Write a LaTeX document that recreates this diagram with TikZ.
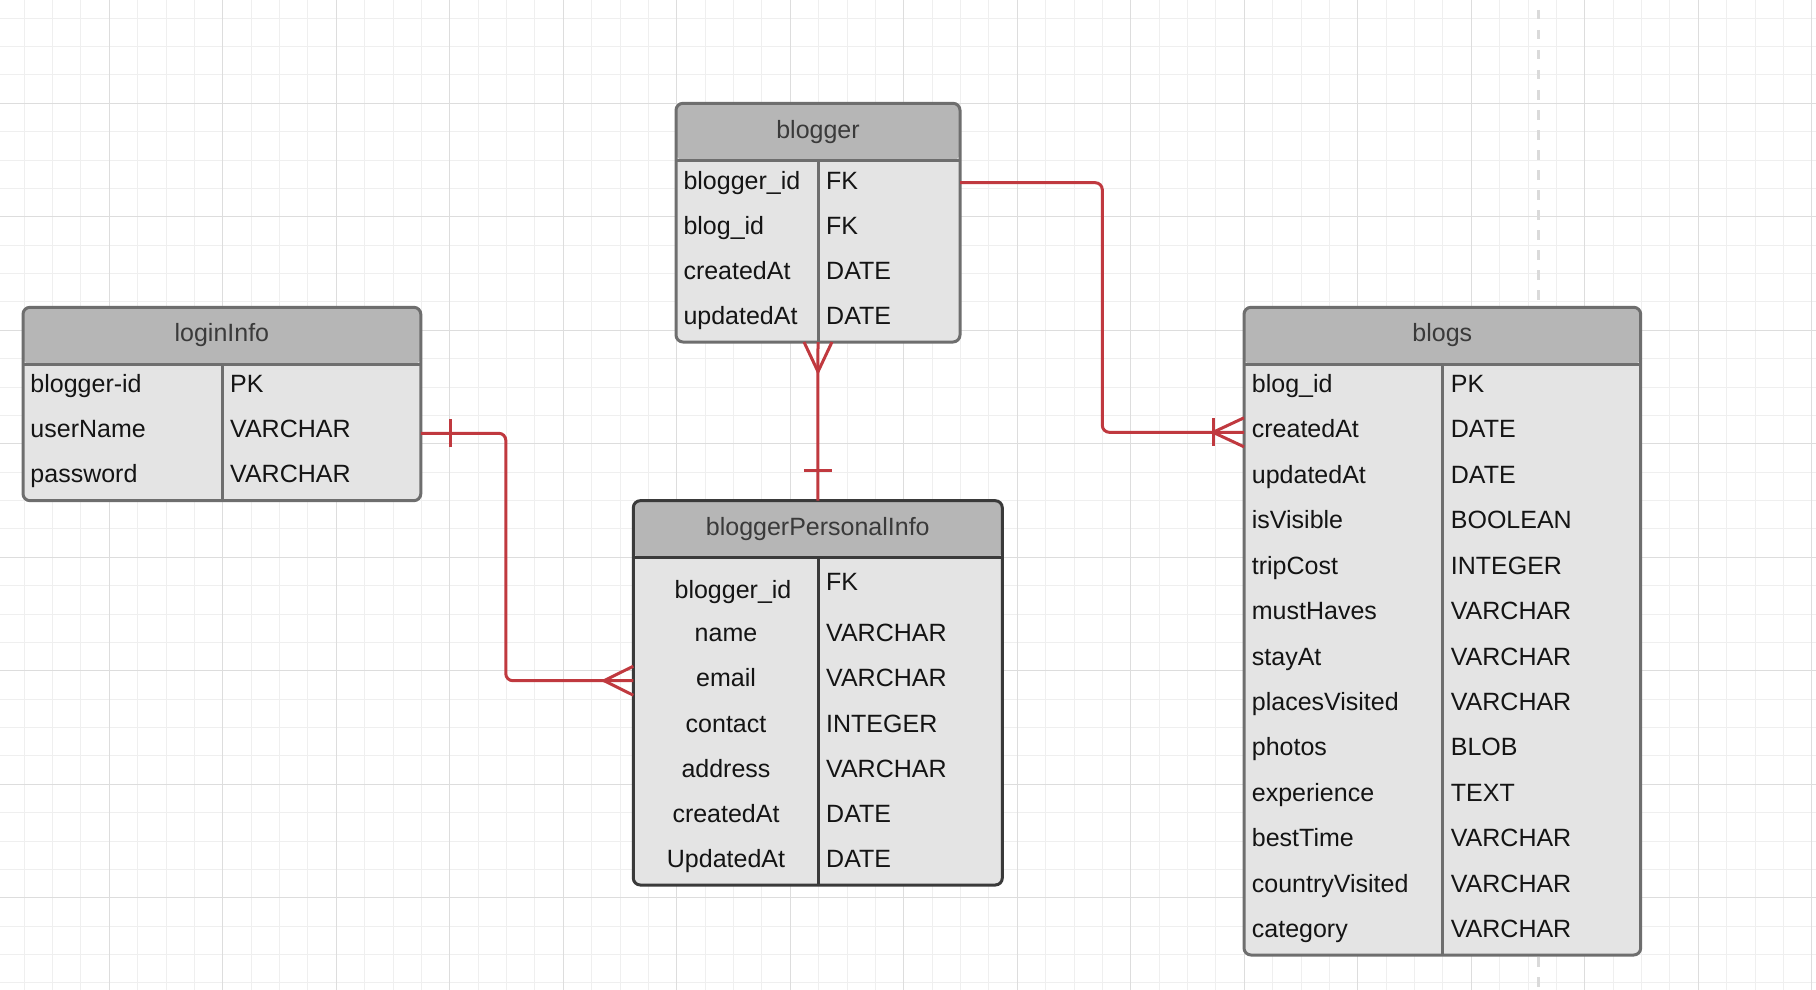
\documentclass[tikz,border=0pt]{standalone}
\usepackage{fontspec}
\setmainfont{Liberation Sans}
\usetikzlibrary{calc}
\definecolor{hdrfill}{RGB}{182,182,182}
\definecolor{bodyfill}{RGB}{228,228,228}
\definecolor{bordergray}{RGB}{110,110,110}
\definecolor{borderdark}{RGB}{58,58,58}
\definecolor{titletext}{RGB}{58,58,58}
\definecolor{fieldtext}{RGB}{20,20,20}
\definecolor{relred}{RGB}{192,57,63}
\definecolor{gridminor}{RGB}{239,239,239}
\definecolor{gridmajor}{RGB}{221,221,221}
\definecolor{pagebreak}{RGB}{218,218,218}
\begin{document}
\begin{tikzpicture}[x=1pt,y=-1pt,
  tablebox/.style={draw=bordergray, line width=3pt, fill=bodyfill, rounded corners=7pt,
    inner sep=0pt, outer sep=0pt, anchor=north west,
    path picture={\fill[hdrfill] (path picture bounding box.north west) rectangle ([yshift=-56.7pt]path picture bounding box.north east);}},
  sepline/.style={draw=bordergray, line width=3pt},
  title/.style={font=\fontsize{25}{30}\selectfont, text=titletext, inner sep=0pt, anchor=base},
  field/.style={font=\fontsize{25}{30}\selectfont, text=fieldtext, inner sep=0pt, anchor=base west},
  fieldc/.style={font=\fontsize{25}{30}\selectfont, text=fieldtext, inner sep=0pt, anchor=base},
  rel/.style={draw=relred, line width=3pt, rounded corners=7pt},
  crow/.style={draw=relred, line width=3pt},
  minorgrid/.style={draw=gridminor, line width=1pt},
  majorgrid/.style={draw=gridmajor, line width=1.2pt}
]
\useasboundingbox (0,0) rectangle (1816,990);
\fill[white] (0,0) rectangle (1816,990);
% grid
\begin{scope}
\clip (0,0) rectangle (1816,990);
\foreach \i in {0,...,64} \draw[minorgrid] ({-4.2+28.375*\i},0) -- ++(0,990);
\foreach \j in {0,...,36} \draw[minorgrid] (0,{-10.2+28.375*\j}) -- ++(1816,0);
\foreach \i in {0,...,16} \draw[majorgrid] ({-4.2+113.5*\i},0) -- ++(0,990);
\foreach \j in {0,...,9} \draw[majorgrid] (0,{-10.2+113.5*\j}) -- ++(1816,0);
\end{scope}
% page break line
\draw[pagebreak, line width=3pt, dash pattern=on 9.5pt off 10.5pt] (1538.7,10) -- (1538.7,300);
\draw[pagebreak, line width=3pt, dash pattern=on 9.5pt off 10.5pt] (1538.7,957) -- (1538.7,990);

% ---------- blogger ----------
\node[tablebox, minimum width=284pt, minimum height=238.7pt] (blogger) at (676,103.3) {};
\draw[sepline] ([yshift=-56.7pt]blogger.north west) -- ([yshift=-56.7pt]blogger.north east);
\draw[sepline] ([xshift=142pt,yshift=-56.7pt]blogger.north west) -- ([xshift=142pt]blogger.south west);
\node[title] (blogger-title) at (818,138.2) {blogger};
\foreach \k/\t [count=\i] in {blogger\_id/FK, blog\_id/FK, createdAt/DATE, updatedAt/DATE} {
  \node[field] (blogger-k\i) at (683.3,{189+45.1*(\i-1)}) {\k};
  \node[field] (blogger-t\i) at (826,{189+45.1*(\i-1)}) {\t};
}

% ---------- loginInfo ----------
\node[tablebox, minimum width=397.8pt, minimum height=193.4pt] (login) at (23,307.3) {};
\draw[sepline] ([yshift=-56.7pt]login.north west) -- ([yshift=-56.7pt]login.north east);
\draw[sepline] ([xshift=199.2pt,yshift=-56.7pt]login.north west) -- ([xshift=199.2pt]login.south west);
\node[title] (login-title) at (221.9,341.8) {loginInfo};
\foreach \k/\t [count=\i] in {blogger-id/PK, userName/VARCHAR, password/VARCHAR} {
  \node[field] (login-k\i) at (30.3,{392.3+45.2*(\i-1)}) {\k};
  \node[field] (login-t\i) at (230,{392.3+45.2*(\i-1)}) {\t};
}

% ---------- bloggerPersonalInfo ----------
\node[tablebox, draw=borderdark, minimum width=369pt, minimum height=384.3pt] (bpi) at (633.3,500.7) {};
\draw[sepline, draw=borderdark] ([yshift=-57pt]bpi.north west) -- ([yshift=-57pt]bpi.north east);
\draw[sepline, draw=borderdark] ([xshift=185.2pt,yshift=-57pt]bpi.north west) -- ([xshift=185.2pt]bpi.south west);
\node[title] (bpi-title) at (817.8,535.4) {bloggerPersonalInfo};
\node[fieldc] (bpi-k1) at (733,598.3) {blogger\_id};
\node[field] (bpi-t1) at (826,590) {FK};
\foreach \k/\t [count=\i] in {name/VARCHAR, email/VARCHAR, contact/INTEGER, address/VARCHAR, createdAt/DATE, UpdatedAt/DATE} {
  \node[fieldc] (bpi-k\i x) at (726,{641.7+45.2*(\i-1)}) {\k};
  \node[field] (bpi-t\i x) at (826,{641.7+45.2*(\i-1)}) {\t};
}

% ---------- blogs ----------
\node[tablebox, minimum width=396.7pt, minimum height=647.7pt] (blogs) at (1244,307.3) {};
\draw[sepline] ([yshift=-56.7pt]blogs.north west) -- ([yshift=-56.7pt]blogs.north east);
\draw[sepline] ([xshift=198pt,yshift=-56.7pt]blogs.north west) -- ([xshift=198pt]blogs.south west);
\node[title] (blogs-title) at (1442.3,341.8) {blogs};
\foreach \k/\t [count=\i] in {blog\_id/PK, createdAt/DATE, updatedAt/DATE, isVisible/BOOLEAN, tripCost/INTEGER, mustHaves/VARCHAR, stayAt/VARCHAR, placesVisited/VARCHAR, photos/BLOB, experience/TEXT, bestTime/VARCHAR, countryVisited/VARCHAR, category/VARCHAR} {
  \node[field] (blogs-k\i) at (1251.7,{392.3+45.45*(\i-1)}) {\k};
  \node[field] (blogs-t\i) at (1450.7,{392.3+45.45*(\i-1)}) {\t};
}

% ---------- relationships ----------
% blogger -> blogs (one and only one ... one or many)
\coordinate (c1s) at ($(blogger.north east)+(0,79.4)$);
\coordinate (c1e) at ($(blogs.north west)+(0,125)$);
\draw[rel] (c1s) -- ++(142.3,0) |- (c1e);
\draw[crow] ($(c1e)+(0,-14.5)$) -- ($(c1e)+(-31,0)$) -- ($(c1e)+(0,14.5)$);
\draw[crow] ($(c1e)+(-31,-14)$) -- ($(c1e)+(-31,14)$);

% blogger -> bloggerPersonalInfo
\draw[rel] (blogger.south) -- (bpi.north);
\draw[crow] ($(blogger.south)+(-14,0)$) -- ($(blogger.south)+(0,29.7)$) -- ($(blogger.south)+(14,0)$);
\draw[crow] ($(bpi.north)+(-14,-30)$) -- ($(bpi.north)+(14,-30)$);

% loginInfo -> bloggerPersonalInfo
\coordinate (c3s) at ($(login.north east)+(0,126)$);
\coordinate (c3e) at ($(bpi.north west)+(0,180)$);
\draw[rel] (c3s) -- ++(85,0) |- (c3e);
\draw[crow] ($(c3s)+(29.4,-14)$) -- ($(c3s)+(29.4,14)$);
\draw[crow] ($(c3e)+(0,-14.5)$) -- ($(c3e)+(-29.3,0)$) -- ($(c3e)+(0,14.5)$);
\end{tikzpicture}
\end{document}
